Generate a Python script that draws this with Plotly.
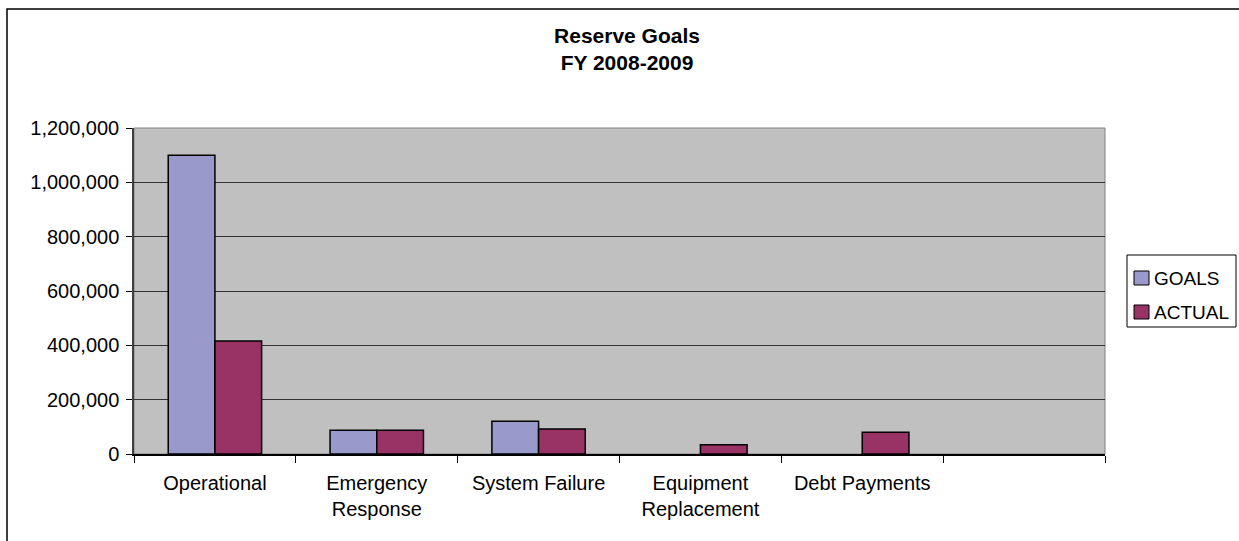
import plotly.graph_objects as go

categories = ["Operational", "Emergency<br>Response", "System Failure",
              "Equipment<br>Replacement", "Debt Payments", " "]
goals = [1100000, 87000, 121000, None, None, None]
actual = [416000, 87000, 92000, 34000, 80000, None]
y_ticks = [0, 200000, 400000, 600000, 800000, 1000000, 1200000]
series_names = ["GOALS", "ACTUAL"]
series_colors = ["#9999CC", "#993366"]

W, H = 1239, 541
L, R, T, B = 134, W - 1105, 128, H - 454
pw, ph = W - L - R, H - T - B

def px_x(p):
    return (p - L) / pw

def px_y(p):
    return (H - B - p) / ph

FONT = "Liberation Sans, Arial, sans-serif"

fig = go.Figure()
for name, vals, col in zip(series_names, [goals, actual], series_colors):
    fig.add_trace(go.Bar(x=categories, y=vals, name=name,
                         marker=dict(color=col, line=dict(color="#000000", width=1.5))))

fig.update_layout(
    width=W, height=H,
    margin=dict(l=L, r=R, t=T, b=B, autoexpand=False),
    paper_bgcolor="white",
    plot_bgcolor="#C0C0C0",
    font=dict(family=FONT, size=20, color="black"),
    barmode="group", bargap=0.423, bargroupgap=0,
    title=dict(text="<b>Reserve Goals</b><br><b>FY 2008-2009</b>",
               font=dict(family=FONT, size=21, color="black"),
               x=627 / W, xanchor="center", xref="container",
               y=1 - 43 / H, yanchor="top", yref="container"),
    showlegend=False,
)
fig.update_xaxes(type="category", categoryorder="array", categoryarray=categories,
                 range=[-0.5, 5.5], showgrid=False, showline=True, linecolor="#000000",
                 linewidth=1.5, ticks="outside", tickson="boundaries", ticklen=7,
                 tickcolor="#000000", tickwidth=1, ticklabelstandoff=10,
                 tickfont=dict(family=FONT, size=20, color="black"))
fig.update_yaxes(range=[0, 1200000], tickvals=y_ticks, tickformat=",",
                 showgrid=True, gridcolor="#333333", gridwidth=1,
                 showline=True, linecolor="#404040", linewidth=1.5,
                 ticks="outside", ticklen=6, tickcolor="#000000", ticklabelstandoff=3,
                 tickfont=dict(family=FONT, size=20, color="black"), zeroline=False)

# plot area border (right/top) in gray
fig.add_shape(type="rect", xref="paper", yref="paper", x0=0, y0=0, x1=1, y1=1,
              line=dict(color="#808080", width=1), layer="below")
# outer chart border (only left/top visible in the frame)
fig.add_shape(type="rect", xref="paper", yref="paper",
              x0=px_x(7), y0=px_y(560), x1=px_x(1260), y1=px_y(9),
              line=dict(color="#000000", width=1.5))

# legend box
fig.add_shape(type="rect", xref="paper", yref="paper",
              x0=px_x(1127), y0=px_y(327), x1=px_x(1236), y1=px_y(255),
              line=dict(color="#000000", width=1), fillcolor="white")
legend_rows = [278, 312]
for name, col, yc in zip(series_names, series_colors, legend_rows):
    fig.add_shape(type="rect", xref="paper", yref="paper",
                  x0=px_x(1134), y0=px_y(yc + 7), x1=px_x(1149), y1=px_y(yc - 7),
                  line=dict(color="#000000", width=1), fillcolor=col)
    fig.add_annotation(x=px_x(1152), y=px_y(yc), xref="paper", yref="paper",
                       text=name, showarrow=False, xanchor="left", yanchor="middle",
                       font=dict(family=FONT, size=19, color="black"))

fig.write_html("out.html", config={"displayModeBar": False},
               post_script="document.body.style.margin='0';")
